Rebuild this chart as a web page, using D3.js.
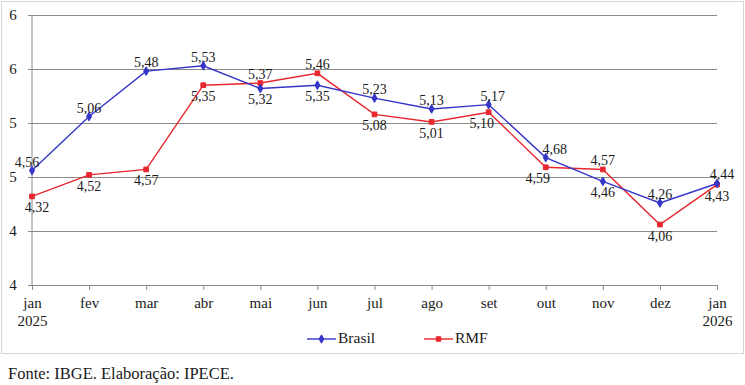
<!DOCTYPE html>
<html lang="pt">
  <head>
    <meta charset="utf-8">
    <title>Brasil x RMF</title>
    <script type="text/javascript" src="https://cdn.jsdelivr.net/npm/d3@7"></script>
    <style>
    body { margin: 0; background: #fff; }
    </style>
  </head>
  <body>
    <div id="vis"></div>
    <script type="text/javascript">

      // data
      var months = ['jan', 'fev', 'mar', 'abr', 'mai', 'jun', 'jul', 'ago', 'set', 'out', 'nov', 'dez', 'jan'];
      var years = ['2025', '', '', '', '', '', '', '', '', '', '', '', '2026'];
      var brasil = [4.56, 5.06, 5.48, 5.53, 5.32, 5.35, 5.23, 5.13, 5.17, 4.68, 4.46, 4.26, 4.44];
      var rmf = [4.32, 4.52, 4.57, 5.35, 5.37, 5.46, 5.08, 5.01, 5.10, 4.59, 4.57, 4.06, 4.43];
      var yTicks = [3.5, 4.0, 4.5, 5.0, 5.5, 6.0];

      // label placement: 1 = above, -1 = below
      var brasilPos = [1, 1, 1, 1, -1, -1, 1, 1, 1, 1, -1, 1, 1];
      var rmfPos = [-1, -1, -1, -1, 1, 1, -1, -1, -1, -1, 1, -1, -1];
      var brasilDx = [-5, 0, 0, 0, 0, 0, 0, 0, 4, 9, 0, 0, 5];
      var rmfDx = [5, 0, 0, 0, 0, 0, 0, 0, -7, -8, 0, 0, 0];

      var dims = { w: 745, h: 385, left: 32, right: 717, top: 15, bottom: 285 };
      var serif = "'Liberation Serif', serif";
      var ink = '#1a1a1a';

      var svg = d3.select('#vis')
        .append('svg')
          .attr('width', dims.w)
          .attr('height', dims.h);

      // outer frame
      svg.append('rect')
        .attr('x', 1.5).attr('y', 1.5)
        .attr('width', 742).attr('height', 352)
        .attr('fill', 'none')
        .attr('stroke', '#d6d6d6');

      var x = d3.scalePoint()
        .domain(d3.range(months.length))
        .range([dims.left, dims.right]);

      var y = d3.scaleLinear()
        .domain([3.5, 6.0])
        .range([dims.bottom, dims.top]);

      // gridlines + y axis
      var yAxis = d3.axisLeft(y)
        .tickValues(yTicks)
        .tickSize(-(dims.right - dims.left))
        .tickFormat(function(d) { return Math.round(d + 1e-9); });

      var gy = svg.append('g')
        .attr('transform', 'translate(' + dims.left + ',0)')
        .call(yAxis);
      gy.select('.domain').remove();
      gy.selectAll('.tick line')
        .attr('x1', -4)
        .attr('stroke', '#8a8a8a');
      gy.selectAll('.tick text')
        .attr('x', -19)
        .attr('text-anchor', 'middle')
        .attr('font-family', serif)
        .attr('font-size', 15)
        .attr('fill', ink);

      svg.append('line')
        .attr('x1', dims.left).attr('x2', dims.left)
        .attr('y1', dims.top).attr('y2', dims.bottom)
        .attr('stroke', '#8a8a8a');

      // x axis
      var xAxis = d3.axisBottom(x)
        .tickSize(5)
        .tickFormat(function(d) { return months[d]; });

      var gx = svg.append('g')
        .attr('transform', 'translate(0,' + dims.bottom + ')')
        .call(xAxis);
      gx.select('.domain').attr('stroke', '#8a8a8a');
      gx.selectAll('.tick line').attr('stroke', '#8a8a8a');
      gx.selectAll('.tick')
        .append('text')
          .attr('y', 30)
          .attr('dy', '0.71em')
          .text(function(d) { return years[d]; });
      gx.selectAll('.tick text')
        .attr('font-family', serif)
        .attr('font-size', 15)
        .attr('fill', ink);
      gx.selectAll('.tick text:first-of-type').attr('y', 12);

      var line = d3.line()
        .x(function(d, i) { return x(i); })
        .y(function(d) { return y(d); });

      var fmt = function(v) { return d3.format('.2f')(v).replace('.', ','); };

      function drawSeries(values, color, shape, pos, dx) {
        var g = svg.append('g');
        g.append('path')
          .datum(values)
          .attr('d', line)
          .attr('fill', 'none')
          .attr('stroke', color)
          .attr('stroke-width', 1.4);

        g.selectAll('.marker')
          .data(values)
          .enter()
          .append('path')
            .attr('class', 'marker')
            .attr('transform', function(d, i) { return 'translate(' + x(i) + ',' + y(d) + ')'; })
            .attr('d', d3.symbol().type(shape).size(22))
            .attr('fill', color)
            .attr('stroke', color)
            .attr('stroke-width', 1);

        g.selectAll('.lbl')
          .data(values)
          .enter()
          .append('text')
            .attr('class', 'lbl')
            .attr('x', function(d, i) { return x(i) + dx[i]; })
            .attr('y', function(d, i) { return y(d) + (pos[i] > 0 ? -4 : 16); })
            .attr('text-anchor', 'middle')
            .attr('font-family', serif)
            .attr('font-size', 14)
            .attr('fill', ink)
            .text(fmt);
      }

      drawSeries(rmf, '#e8262d', d3.symbolSquare, rmfPos, rmfDx);
      drawSeries(brasil, '#3535c8', d3.symbolDiamond, brasilPos, brasilDx);

      // legend
      var legend = svg.append('g').attr('transform', 'translate(0,339)');
      var items = [
        { name: 'Brasil', color: '#3535c8', shape: d3.symbolDiamond, x0: 307 },
        { name: 'RMF', color: '#e8262d', shape: d3.symbolSquare, x0: 424 }
      ];
      items.forEach(function(it) {
        legend.append('line')
          .attr('x1', it.x0).attr('x2', it.x0 + 29)
          .attr('stroke', it.color).attr('stroke-width', 1.4);
        legend.append('path')
          .attr('transform', 'translate(' + (it.x0 + 14.5) + ',0)')
          .attr('d', d3.symbol().type(it.shape).size(20))
          .attr('fill', it.color)
          .attr('stroke', it.color);
        legend.append('text')
          .attr('x', it.x0 + 31)
          .attr('y', 4)
          .attr('font-family', serif)
          .attr('font-size', 15.5)
          .attr('fill', ink)
          .text(it.name);
      });

      // source
      svg.append('text')
        .attr('x', 8)
        .attr('y', 379)
        .attr('font-family', serif)
        .attr('font-size', 16.5)
        .attr('fill', ink)
        .text('Fonte: IBGE. Elaboração: IPECE.');

    </script>
  </body>
</html>
